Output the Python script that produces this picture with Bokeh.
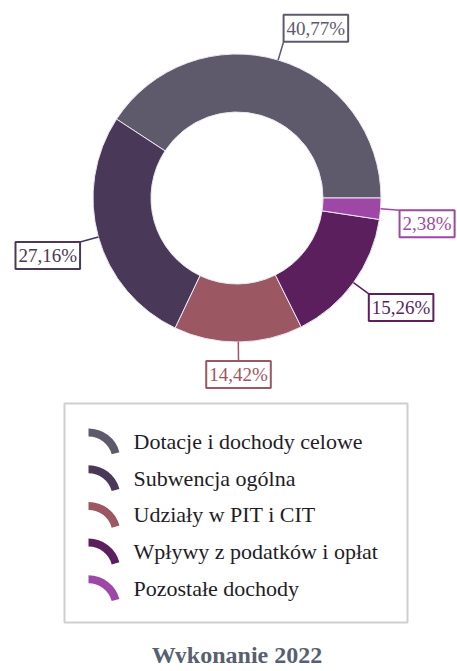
import math
from bokeh.plotting import figure
from bokeh.models import Range1d, ColumnDataSource
from bokeh.core.properties import value
from bokeh.embed import file_html
from bokeh.resources import INLINE

# ---- data ----
categories = ["Dotacje i dochody celowe", "Subwencja ogólna", "Udziały w PIT i CIT",
              "Wpływy z podatków i opłat", "Pozostałe dochody"]
shares = [40.77, 27.16, 14.42, 15.26, 2.38]
colors = ["#5e5a6c", "#4a3858", "#9b5762", "#5b1f5e", "#9e47a7"]
title_text = "Wykonanie 2022"

W, H = 457, 663
p = figure(width=W, height=H, output_backend="svg", toolbar_location=None,
           x_range=Range1d(0, W), y_range=Range1d(0, H), min_border=0)
p.axis.visible = False
p.grid.visible = False
p.outline_line_color = None
p.background_fill_color = "white"
p.border_fill_color = "white"

def py(yp):
    return H - yp

cx, cy = 236.5, py(197.5)
r_in, r_out, r_lab = 86, 144, 163

total = sum(shares)
starts, ends, mids = [], [], []
acc = 0.0
for s in shares:
    a0 = acc / total * 2 * math.pi
    acc += s
    a1 = acc / total * 2 * math.pi
    starts.append(a0)
    ends.append(a1)
    mids.append((a0 + a1) / 2)

src = ColumnDataSource(dict(start=starts, end=ends, color=colors, cat=categories))
p.annular_wedge(x=cx, y=cy, inner_radius=r_in, outer_radius=r_out,
                start_angle="start", end_angle="end", fill_color="color",
                line_color="#ece8f0", line_width=1, source=src)

# ---- labels with leader lines ----
for s, m, c in zip(shares, mids, colors):
    x0 = cx + r_out * math.cos(m)
    y0 = cy + r_out * math.sin(m)
    x1 = cx + r_lab * math.cos(m)
    y1 = cy + r_lab * math.sin(m)
    p.line([x0, x1], [y0, y1], line_color=c, line_width=1.5)
    cs, sn = math.cos(m), math.sin(m)
    if sn > 0.5:
        anc = "bottom_left" if cs >= 0 else "bottom_right"
    elif abs(cs) < 0.3:
        anc = "top_center"
    else:
        anc = "top_left" if cs > 0 else "top_right"
    lab = f"{s:.2f}".replace(".", ",") + "%"
    p.text(x=[x1], y=[y1], text=[lab], anchor=value(anc),
           text_font=value("Liberation Serif"), text_font_size="19px",
           text_color=c, background_fill_color="white",
           border_line_color=c, border_line_width=2, padding=3)

# ---- legend ----
p.quad(left=64, right=407, top=py(403), bottom=py(622),
       fill_color=None, line_color="#cfcfcf", line_width=2)
step = 36.7
for i, (cat, c) in enumerate(zip(categories, colors)):
    top = 428 + i * step
    p.annular_wedge(x=88, y=py(top + 32), inner_radius=24, outer_radius=32,
                    start_angle=math.radians(15), end_angle=math.radians(90),
                    fill_color=c, line_color=None)
    p.text(x=[133], y=[py(top + 13)], text=[cat],
           text_font=value("Liberation Serif"), text_font_size="22px",
           text_color="#1f1c28", text_baseline="middle", text_align="left")

# ---- title ----
p.text(x=[cx], y=[py(654)], text=[title_text], text_font=value("Liberation Serif"),
       text_font_size="24px", text_font_style="bold", text_color="#585f70",
       text_align="center", text_baseline="alphabetic")

open("out.html", "w").write(file_html(p, INLINE))
